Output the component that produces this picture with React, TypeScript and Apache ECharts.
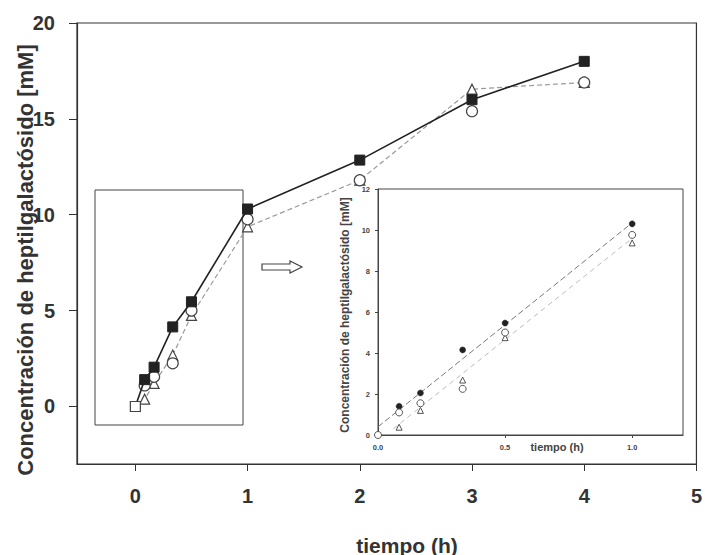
import React, { useEffect, useRef } from "react";
import * as echarts from "echarts";

// Time points (h)
const times = [0, 0.083, 0.167, 0.333, 0.5, 1, 2, 3, 4];
// Filled squares / filled circles
const filledVals = [0, 1.4, 2.05, 4.15, 5.46, 10.3, 12.85, 16.0, 18.0];
// Open circles
const circleVals = [0, 1.1, 1.55, 2.25, 5.0, 9.76, 11.8, 15.4, 16.9];
// Open triangles
const triangleVals = [0, 0.38, 1.2, 2.68, 4.75, 9.37, 11.8, 16.55, 16.9];

// Inset regression lines
const fitDark = [[0, 0.4], [1.0, 10.35]];
const fitLight = [[0.06, 0.3], [1.0, 9.6]];

// Tick values
const mainXTicks = [0, 1, 2, 3, 4, 5];
const mainYTicks = [0, 5, 10, 15, 20];
const insetXTicks = [0, 0.5, 1.0];

const FONT = "'Liberation Sans', Arial, sans-serif";

export default function App() {
  const ref = useRef<HTMLDivElement>(null);

  useEffect(() => {
    if (!ref.current) return;
    const chart = echarts.init(ref.current, null, { renderer: "svg" });

    const pts = (vals: number[], maxT: number) =>
      times
        .map((t, i) => [t, vals[i]] as [number, number])
        .filter((p) => p[0] <= maxT);

    const mainFilled = pts(filledVals, 10).map((p, i) =>
      i === 0
        ? { value: p, itemStyle: { color: "#fff", borderColor: "#444", borderWidth: 1.2 } }
        : { value: p }
    );
    const mainCircle = pts(circleVals, 10).map((p, i) =>
      i === 0 ? { value: p, symbol: "none" } : { value: p }
    );
    const mainTri = pts(triangleVals, 10).map((p, i) =>
      i === 0 ? { value: p, symbol: "none" } : { value: p }
    );

    const insFilled = pts(filledVals, 1).map((p, i) =>
      i === 0 ? { value: p, symbol: "none" } : { value: p }
    );
    const insCircle = pts(circleVals, 1).map((p) => ({ value: p }));
    const insTri = pts(triangleVals, 1).map((p, i) =>
      i === 0 ? { value: p, symbol: "none" } : { value: p }
    );

    const openStyle = { color: "#fff", borderColor: "#444", borderWidth: 1.2 };

    chart.setOption({
      animation: false,
      backgroundColor: "#fff",
      textStyle: { fontFamily: FONT },
      grid: [
        {
          left: 77,
          right: 7,
          top: 23,
          bottom: 91,
          show: true,
          borderColor: "#333",
          borderWidth: 1.2,
          backgroundColor: "transparent",
        },
        {
          left: 378,
          right: 22,
          top: 189,
          bottom: 120,
          show: true,
          borderColor: "#444",
          borderWidth: 1,
          backgroundColor: "#fff",
        },
      ],
      xAxis: [
        {
          type: "value",
          gridIndex: 0,
          min: -0.52,
          max: 5,
          axisLine: { show: true, onZero: false, lineStyle: { color: "#333", width: 1.2 } },
          axisTick: { show: true, customValues: mainXTicks, length: 7, lineStyle: { color: "#333" } },
          axisLabel: {
            customValues: mainXTicks,
            margin: 22,
            fontSize: 20,
            fontWeight: "bold",
            color: "#333",
            fontFamily: FONT,
          },
          splitLine: { show: false },
        },
        {
          type: "value",
          gridIndex: 1,
          min: 0,
          max: 1.2,
          axisLine: { show: true, onZero: false, lineStyle: { color: "#444", width: 1 } },
          axisTick: { show: true, customValues: insetXTicks, length: 3, lineStyle: { color: "#444" } },
          axisLabel: {
            customValues: insetXTicks,
            margin: 8,
            fontSize: 7.5,
            fontWeight: "bold",
            color: "#444",
            fontFamily: FONT,
            formatter: (v: number) => v.toFixed(1),
          },
          splitLine: { show: false },
        },
      ],
      yAxis: [
        {
          type: "value",
          gridIndex: 0,
          min: -3,
          max: 20,
          axisLine: { show: true, onZero: false, lineStyle: { color: "#333", width: 1.2 } },
          axisTick: { show: true, customValues: mainYTicks, length: 8, lineStyle: { color: "#333" } },
          axisLabel: {
            customValues: mainYTicks,
            margin: 22,
            fontSize: 20,
            fontWeight: "bold",
            color: "#333",
            fontFamily: FONT,
          },
          splitLine: { show: false },
        },
        {
          type: "value",
          gridIndex: 1,
          min: 0,
          max: 12,
          interval: 2,
          axisLine: { show: true, onZero: false, lineStyle: { color: "#444", width: 1 } },
          axisTick: { show: true, length: 3, lineStyle: { color: "#444" } },
          axisLabel: {
            margin: 8,
            fontSize: 7.5,
            fontWeight: "bold",
            color: "#444",
            fontFamily: FONT,
          },
          splitLine: { show: false },
        },
      ],
      series: [
        {
          type: "line",
          xAxisIndex: 0,
          yAxisIndex: 0,
          data: mainTri,
          symbol: "triangle",
          symbolSize: 10,
          itemStyle: openStyle,
          lineStyle: { color: "#999", width: 1.2, type: [5, 3] },
          z: 3,
        },
        {
          type: "line",
          xAxisIndex: 0,
          yAxisIndex: 0,
          data: mainCircle,
          symbol: "circle",
          symbolSize: 11,
          itemStyle: openStyle,
          lineStyle: { width: 0, opacity: 0 },
          z: 4,
        },
        {
          type: "line",
          xAxisIndex: 0,
          yAxisIndex: 0,
          data: mainFilled,
          symbol: "rect",
          symbolSize: 10,
          itemStyle: { color: "#222", borderColor: "#222", borderWidth: 1 },
          lineStyle: { color: "#222", width: 1.6 },
          z: 5,
        },
        {
          type: "line",
          xAxisIndex: 1,
          yAxisIndex: 1,
          data: fitLight,
          symbol: "none",
          lineStyle: { color: "#bbb", width: 1, type: [5, 4] },
          z: 3,
        },
        {
          type: "line",
          xAxisIndex: 1,
          yAxisIndex: 1,
          data: fitDark,
          symbol: "none",
          lineStyle: { color: "#777", width: 1, type: [6, 3] },
          z: 3,
        },
        {
          type: "line",
          xAxisIndex: 1,
          yAxisIndex: 1,
          data: insTri,
          symbol: "triangle",
          symbolSize: 6,
          itemStyle: { color: "#fff", borderColor: "#555", borderWidth: 1 },
          lineStyle: { width: 0, opacity: 0 },
          z: 4,
        },
        {
          type: "line",
          xAxisIndex: 1,
          yAxisIndex: 1,
          data: insFilled,
          symbol: "circle",
          symbolSize: 6,
          itemStyle: { color: "#222", borderColor: "#222", borderWidth: 0.5 },
          lineStyle: { width: 0, opacity: 0 },
          z: 4,
        },
        {
          type: "line",
          xAxisIndex: 1,
          yAxisIndex: 1,
          data: insCircle,
          symbol: "circle",
          symbolSize: 7,
          itemStyle: { color: "#fff", borderColor: "#555", borderWidth: 1 },
          lineStyle: { width: 0, opacity: 0 },
          z: 5,
        },
      ],
      graphic: [
        {
          type: "rect",
          shape: { x: 95, y: 190, width: 148, height: 235 },
          style: { fill: "none", stroke: "#444", lineWidth: 1 },
          z: 1,
        },
        {
          type: "polygon",
          shape: {
            points: [
              [262, 264],
              [290, 264],
              [290, 261],
              [302, 267],
              [290, 273],
              [290, 270],
              [262, 270],
            ],
          },
          style: { fill: "#fff", stroke: "#444", lineWidth: 1.2 },
          z: 10,
        },
        {
          type: "text",
          x: 25,
          y: 260,
          rotation: Math.PI / 2,
          style: {
            text: "Concentración de heptilgalactósido [mM]",
            font: `bold 22px ${FONT}`,
            fill: "#333",
            align: "center",
            verticalAlign: "middle",
          },
        },
        {
          type: "text",
          x: 407,
          y: 545,
          style: {
            text: "tiempo (h)",
            font: `bold 21px ${FONT}`,
            fill: "#333",
            align: "center",
            verticalAlign: "middle",
          },
        },
        {
          type: "text",
          x: 345,
          y: 315,
          rotation: Math.PI / 2,
          style: {
            text: "Concentración de heptilgalactósido [mM]",
            font: `bold 12px ${FONT}`,
            fill: "#444",
            align: "center",
            verticalAlign: "middle",
          },
        },
        {
          type: "text",
          x: 557,
          y: 447,
          style: {
            text: "tiempo (h)",
            font: `bold 11px ${FONT}`,
            fill: "#444",
            align: "center",
            verticalAlign: "middle",
          },
        },
      ],
    });

    return () => chart.dispose();
  }, []);

  return (
    <div
      ref={ref}
      style={{ position: "fixed", left: 0, top: 0, width: 705, height: 555 }}
    />
  );
}
